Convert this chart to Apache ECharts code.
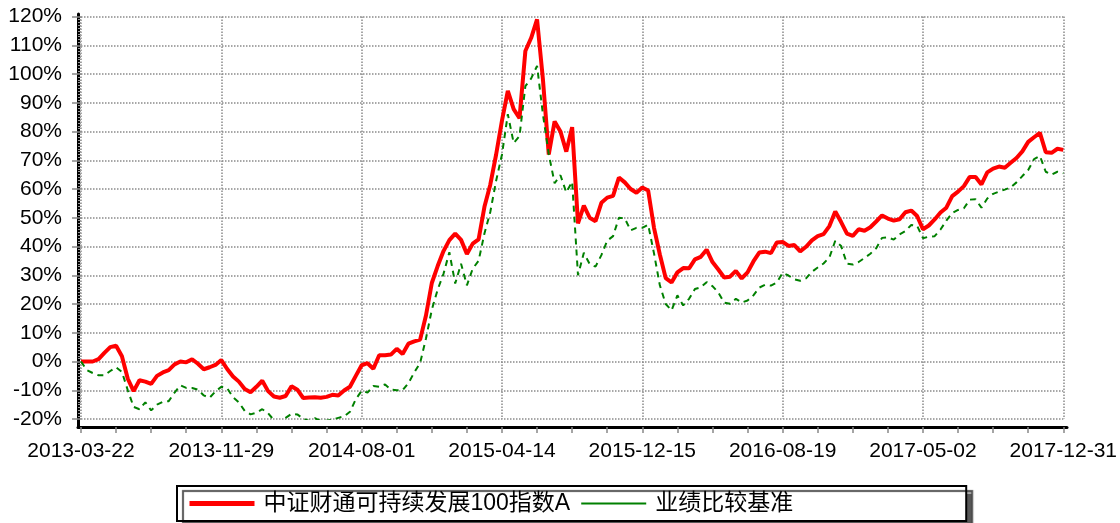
<!DOCTYPE html>
<html>
	<head>
		<meta charset="utf-8">
		<title>中证财通可持续发展100指数A 与 业绩比较基准</title>
		<script src="https://cdn.jsdelivr.net/npm/echarts@6/dist/echarts.min.js"></script>
		<style>
			html, body { margin: 0; padding: 0; background: #fff; }
		</style>
	</head>
	<body>
		<div id="main" style="width: 1120px;height:523px;"></div>

		<script type="text/javascript">
			// 系列名称
			var fundName = '中证财通可持续发展100指数A';
			var benchName = '业绩比较基准';

			// 横轴刻度标签（每 24 个周度样本一个）
			var dateLabels = ['2013-03-22', '2013-11-29', '2014-08-01', '2015-04-14',
				'2015-12-15', '2016-08-19', '2017-05-02', '2017-12-31'];
			var stepPerLabel = 24;

			// 累计净值增长率（%），周度样本
			var fundValues = [0, 0, 0, 0.8, 3, 5, 5.5, 1.8, -6, -10.3,
				-6.5, -7, -7.8, -5, -3.8, -3, -1, 0, -0.3, 0.8,
				-0.8, -2.7, -2, -1.2, 0.5, -2.6, -5.2, -7, -9.6, -10.7,
				-8.8, -6.7, -10.3, -12.2, -12.6, -12, -8.6, -9.8, -12.7, -12.5,
				-12.4, -12.6, -12.3, -11.6, -11.8, -10.1, -8.8, -5, -1.3, -0.6,
				-2.5, 2.2, 2.2, 2.4, 4.4, 2.6, 6.2, 7, 7.6, 16,
				27.3, 33.2, 38.4, 42.2, 44.5, 42.3, 37.4, 41, 42.5, 53.8,
				61.5, 72, 83.8, 94.1, 87.8, 84.6, 108, 112.6, 119, 98.2,
				72, 83.5, 80, 73, 81.5, 48, 54.2, 50, 48.8, 55.2,
				57, 57.6, 64, 62.3, 60, 58.7, 60.5, 59.5, 46.5, 37.2,
				29, 27.5, 31, 32.5, 32.4, 35.5, 36.4, 38.9, 34.6, 32,
				29.2, 29.5, 31.5, 28.9, 31, 34.8, 37.9, 38.2, 37.7, 41.4,
				41.6, 40.2, 40.5, 38.3, 39.9, 42.1, 43.6, 44.3, 47.1, 52.2,
				48.5, 44.5, 43.7, 46, 45.5, 46.7, 48.7, 50.8, 49.7, 49,
				49.5, 51.9, 52.5, 50.6, 46, 47.3, 49.4, 51.8, 53.5, 57.5,
				59.1, 61, 64.2, 64.2, 61.6, 65.8, 67.1, 67.8, 67.4, 69.1,
				70.8, 73.1, 76.4, 78, 79.5, 72.8, 72.6, 74, 73.6];

			// 业绩比较基准收益率（%）
			var benchValues = [0, -3, -4, -4.8, -4.8, -3.3, -2, -3.6, -10, -15.8,
				-16.6, -14.2, -17, -15, -14, -13.8, -10.8, -8.3, -9.2, -9.2,
				-9.8, -11.8, -12.6, -10.4, -8.8, -9.3, -12.4, -14.2, -17.2, -18.4,
				-17.8, -16.6, -18, -20.4, -21.1, -19.6, -18.2, -18.4, -19.9, -20.7,
				-19.7, -20.7, -20.6, -20.2, -19.6, -19.1, -17.5, -13.1, -10.2, -10.8,
				-8.5, -8.8, -8, -9.8, -10, -10, -7.5, -3.8, -0.5, 8,
				18, 25, 30.5, 38, 27.1, 34, 26.5, 32.3, 35, 44.5,
				52, 62.9, 72, 86, 76, 78.4, 95.8, 98.5, 102.8, 86,
				72.2, 62, 64.8, 58.8, 62.5, 30, 37.8, 33.9, 33, 37,
				42, 43.6, 50, 49.8, 45.6, 46.5, 46.5, 47.6, 37.6, 26.5,
				20, 17.8, 23, 19.5, 21.8, 25.2, 25.8, 27.6, 26.2, 24,
				20.5, 20.1, 21.8, 20.5, 21.2, 23, 25.7, 26.7, 26.4, 27.5,
				30.8, 29.9, 28.6, 28.1, 28.9, 31.2, 32.7, 34.1, 36.2, 42,
				40.2, 34, 33.7, 34.6, 36, 37.5, 39.4, 43, 43.2, 42.4,
				44.2, 45.4, 47.5, 47.2, 42.9, 43.4, 43.6, 45.9, 49, 51.6,
				52.7, 53.3, 56.3, 56.4, 53.5, 56.7, 58.3, 59.1, 59.8, 60.6,
				62.3, 64.5, 66.6, 70.4, 71.5, 66, 65, 66, 65.5];

			// 纵轴范围
			var yMin = -20, yMax = 120, yStep = 10;

			var latin = "'Liberation Sans', Arial, 'Noto Sans CJK SC', sans-serif";
			var lastIndex = (dateLabels.length - 1) * stepPerLabel;

			var myChart = echarts.init(document.getElementById('main'));

			var option = {
				animation: false,
				backgroundColor: '#fff',
				// grid 0 只画坐标轴的黑色粗线框，grid 1 放数据
				grid: [
					{left: 78, right: 53, top: 14, bottom: 96, containLabel: false},
					{left: 81, right: 53, top: 16.5, bottom: 104, containLabel: false}
				],
				legend: {
					left: 177,
					top: 486,
					padding: [6, 173, 6, 10],
					itemWidth: 65,
					itemHeight: 14,
					itemGap: 10,
					borderColor: '#000',
					borderWidth: 2,
					borderRadius: 0,
					backgroundColor: '#fff',
					shadowColor: 'rgba(70,70,70,0.9)',
					shadowBlur: 1,
					shadowOffsetX: 6,
					shadowOffsetY: 5,
					// 图例只画线，不画圆点
					itemStyle: {opacity: 0},
					textStyle: {fontSize: 23, color: '#000', fontFamily: latin, padding: [0, 0, 0, 4]},
					data: [
						{name: fundName, lineStyle: {width: 5, type: 'solid'}},
						{name: benchName, lineStyle: {width: 2, type: 'solid'}}
					]
				},
				xAxis: [
					{
						gridIndex: 0, type: 'value', min: 0, max: 1,
						axisLine: {show: true, onZero: false, lineStyle: {color: '#000', width: 3}},
						axisTick: {show: false}, axisLabel: {show: false}, splitLine: {show: false}
					},
					{
						gridIndex: 1, type: 'value', min: 0, max: lastIndex, interval: stepPerLabel,
						offset: 8,
						axisLine: {show: false, onZero: false},
						axisTick: {show: true, length: 6, lineStyle: {color: '#888', width: 1.5}},
						minorTick: {show: true, splitNumber: 4, length: 6, lineStyle: {color: '#888', width: 1.5}},
						axisLabel: {
							show: true, fontSize: 21, color: '#000', fontFamily: latin, margin: 14,
							showMinLabel: true, showMaxLabel: true,
							formatter: function (v) {
								return dateLabels[Math.round(v / stepPerLabel)] || '';
							}
						},
						splitLine: {show: true, lineStyle: {color: '#8a8a8a', type: 'dotted', width: 1.5}}
					}
				],
				yAxis: [
					{
						gridIndex: 0, type: 'value', min: 0, max: 1,
						axisLine: {show: true, onZero: false, lineStyle: {color: '#000', width: 3}},
						axisTick: {show: false}, axisLabel: {show: false}, splitLine: {show: false}
					},
					{
						gridIndex: 1, type: 'value', min: yMin, max: yMax, interval: yStep,
						offset: 3,
						axisLine: {show: false},
						axisTick: {show: true, length: 9, lineStyle: {color: '#888', width: 1.5}},
						minorTick: {show: true, splitNumber: 10, length: 3, lineStyle: {color: '#999', width: 1}},
						axisLabel: {show: true, fontSize: 21, color: '#000', fontFamily: latin, margin: 16, formatter: '{value}%'},
						splitLine: {show: true, lineStyle: {color: '#8a8a8a', type: 'dotted', width: 1.5}}
					}
				],
				series: [
					{
						name: fundName,
						type: 'line',
						xAxisIndex: 1,
						yAxisIndex: 1,
						symbol: 'none',
						showSymbol: false,
						color: '#ff0000',
						lineStyle: {color: '#ff0000', width: 4},
						data: fundValues.map(function (v, i) { return [i, v]; })
					},
					{
						name: benchName,
						type: 'line',
						xAxisIndex: 1,
						yAxisIndex: 1,
						symbol: 'none',
						showSymbol: false,
						color: '#008000',
						lineStyle: {color: '#008000', width: 2, type: [6, 5]},
						data: benchValues.map(function (v, i) { return [i, v]; })
					}
				]
			};

			myChart.setOption(option);
		</script>
	</body>
</html>
